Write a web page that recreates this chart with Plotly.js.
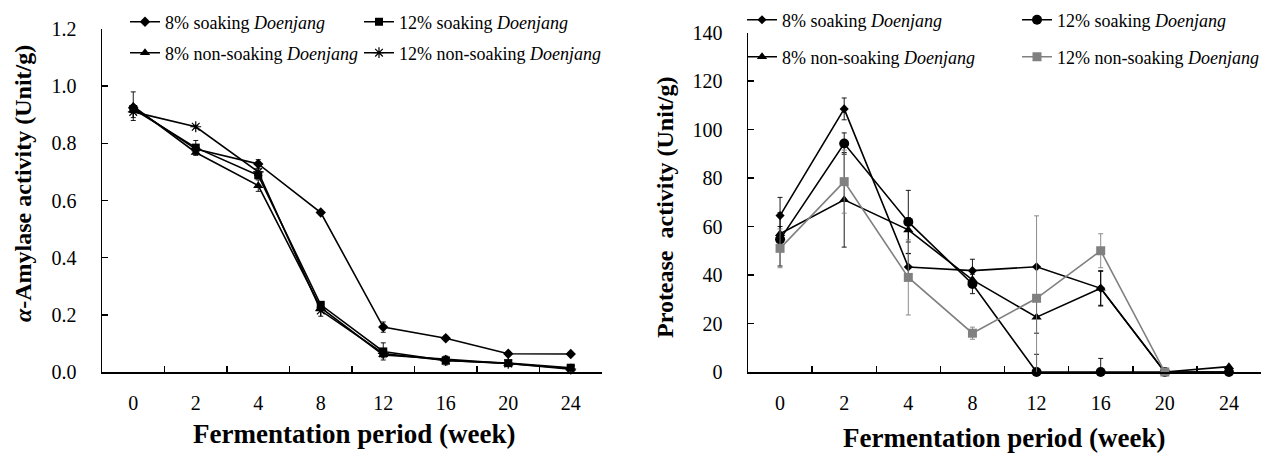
<!DOCTYPE html>
<html>
<head>
<meta charset="utf-8">
<script src="https://cdn.plot.ly/plotly-3.0.1.min.js"></script>
<style>html,body{margin:0;padding:0;background:#fff;}#chart{width:1274px;height:453px;}</style>
</head>
<body>
<div id="chart"></div>
<script>
// ---- categories ----
const weeks = ['0', '2', '4', '8', '12', '16', '20', '24'];

// ---- alpha-amylase activity (Unit/g), left panel ----
const amy8Soak      = [0.925, 0.780, 0.728, 0.558, 0.157, 0.118, 0.064, 0.063];
const amy8SoakErr   = [0.010, 0.010, 0.015, 0.006, 0.018, 0.008, 0.004, 0.004];
const amy12Soak     = [0.920, 0.785, 0.688, 0.235, 0.072, 0.040, 0.031, 0.015];
const amy12SoakErr  = [0.010, 0.025, 0.010, 0.010, 0.030, 0.015, 0.004, 0.004];
const amy8Non       = [0.930, 0.768, 0.652, 0.225, 0.060, 0.045, 0.030, 0.012];
const amy8NonErr    = [0.050, 0.010, 0.020, 0.010, 0.010, 0.010, 0.004, 0.004];
const amy12Non      = [0.910, 0.858, 0.700, 0.215, 0.065, 0.040, 0.030, 0.010];
const amy12NonErr   = [0.020, 0.005, 0.010, 0.020, 0.010, 0.010, 0.004, 0.004];

// ---- protease activity (Unit/g), right panel ----
const pro8Soak      = [64.5, 108.5, 43.3, 41.8, 43.4, 34.5, 0, 0];
const pro8SoakErr   = [7.5, 4.5, 5.5, 4.7, 0, 7.0, 0, 0];
const pro12Soak     = [54.7, 94.2, 61.9, 36.3, 0, 0, 0, 0];
const pro12SoakErr  = [11.0, 4.4, 13.0, 4.0, 7.3, 5.6, 0, 0];
const pro8Non       = [57.0, 71.0, 58.6, 38.0, 22.6, 34.5, 0, 2.2];
const pro8NonErr    = [3.0, 19.5, 5.0, 3.0, 6.6, 7.3, 0, 0];
const pro12Non      = [51.0, 78.5, 39.0, 16.0, 30.4, 50.0, 0, null];
const pro12NonErr   = [8.0, 13.0, 15.5, 2.5, 34.0, 7.0, 0, 0];

const names = [
  '8% soaking <i>Doenjang</i>',
  '12% soaking <i>Doenjang</i>',
  '8% non-soaking <i>Doenjang</i>',
  '12% non-soaking <i>Doenjang</i>'
];

const FONT = 'Liberation Serif';
const BLACK = '#000000';
const GRAY = '#808080';

function tr(y, err, name, symbol, size, color, xa, ya, legend, lw) {
  return {
    type: 'scatter', mode: 'lines+markers',
    x: weeks, y: y, name: name,
    xaxis: xa, yaxis: ya, legend: legend, showlegend: true,
    cliponaxis: false,
    line: {color: color, width: lw},
    marker: {symbol: symbol, size: size, color: color,
             line: {color: color, width: symbol.indexOf('asterisk') === 0 ? 1.2 : 0}},
    error_y: {type: 'data', array: err, visible: true, color: color, thickness: 0.9, width: 2.5}
  };
}

const data = [
  tr(amy8Soak,  amy8SoakErr,  names[0], 'diamond',       8, BLACK, 'x',  'y',  'legend',  1.6),
  tr(amy12Soak, amy12SoakErr, names[1], 'square',        8, BLACK, 'x',  'y',  'legend2', 1.6),
  tr(amy8Non,   amy8NonErr,   names[2], 'triangle-up',   9, BLACK, 'x',  'y',  'legend3', 1.6),
  tr(amy12Non,  amy12NonErr,  names[3], 'asterisk-open', 9, BLACK, 'x',  'y',  'legend4', 1.6),
  tr(pro8Soak,  pro8SoakErr,  names[0], 'diamond',       7, BLACK, 'x2', 'y2', 'legend5', 1.6),
  tr(pro12Soak, pro12SoakErr, names[1], 'circle',        10, BLACK, 'x2', 'y2', 'legend6', 1.6),
  tr(pro8Non,   pro8NonErr,   names[2], 'triangle-up',   9, BLACK, 'x2', 'y2', 'legend7', 1.6),
  tr(pro12Non,  pro12NonErr,  names[3], 'square',        9, GRAY,  'x2', 'y2', 'legend8', 1.6)
];

const W = 1274, H = 453;
const px = v => v / W;
const py = v => (H - v) / H;

function xax(d0, d1, anchor) {
  return {
    domain: [px(d0), px(d1)], anchor: anchor, type: 'category',
    categoryorder: 'array', categoryarray: weeks,
    range: [-0.5, 7.5], tickson: 'boundaries',
    ticks: 'inside', ticklen: 6, tickwidth: 1.5, tickcolor: BLACK,
    showline: true, linewidth: 1.5, linecolor: BLACK,
    showgrid: false, zeroline: false, fixedrange: true,
    tickfont: {family: FONT, size: 20, color: BLACK},
    ticklabelstandoff: 12
  };
}
function yax(top, range, dtick, fmt, anchor) {
  return {
    domain: [py(372), py(top)], anchor: anchor,
    range: range, dtick: dtick, tick0: 0, tickformat: fmt,
    ticks: 'inside', ticklen: 6, tickwidth: 1.5, tickcolor: BLACK,
    showline: true, linewidth: 1.5, linecolor: BLACK,
    showgrid: false, zeroline: false, fixedrange: true,
    tickfont: {family: FONT, size: 20, color: BLACK},
    ticklabelstandoff: 20
  };
}
function leg(xText, yCenter) {
  return {
    x: px(xText - 45), y: py(yCenter), xanchor: 'left', yanchor: 'middle',
    orientation: 'h', bgcolor: 'rgba(0,0,0,0)', borderwidth: 0,
    font: {family: FONT, size: 18, color: BLACK}, visible: true
  };
}

const layout = {
  width: W, height: H,
  margin: {l: 0, r: 0, t: 0, b: 0},
  showlegend: true,
  paper_bgcolor: '#ffffff', plot_bgcolor: '#ffffff',
  font: {family: FONT, color: BLACK},
  xaxis: xax(102, 602, 'y'),
  yaxis: yax(29, [0, 1.2], 0.2, '.1f', 'x'),
  xaxis2: xax(748, 1261, 'y2'),
  yaxis2: yax(32.5, [0, 140], 20, '', 'x2'),
  legend:  leg(170, 22),
  legend2: leg(404, 22),
  legend3: leg(170, 53),
  legend4: leg(404, 53),
  legend5: leg(787, 20),
  legend6: leg(1062, 20),
  legend7: leg(787, 57),
  legend8: leg(1062, 57),
  annotations: [
    {text: '<b>Fermentation period (week)</b>', xref: 'paper', yref: 'paper',
     x: px(354), y: py(434), xanchor: 'center', yanchor: 'middle', showarrow: false,
     font: {family: FONT, size: 27, color: BLACK}},
    {text: '<b>Fermentation period (week)</b>', xref: 'paper', yref: 'paper',
     x: px(1004), y: py(438), xanchor: 'center', yanchor: 'middle', showarrow: false,
     font: {family: FONT, size: 27, color: BLACK}},
    {text: '<b><i>α</i>-Amylase activity (Unit/g)</b>', xref: 'paper', yref: 'paper',
     x: px(23), y: py(184), xanchor: 'center', yanchor: 'middle', showarrow: false, textangle: -90,
     font: {family: FONT, size: 24, color: BLACK}},
    {text: '<b>Protease\u00a0 activity (Unit/g)</b>', xref: 'paper', yref: 'paper',
     x: px(665), y: py(208), xanchor: 'center', yanchor: 'middle', showarrow: false, textangle: -90,
     font: {family: FONT, size: 24, color: BLACK}}
  ]
};

Plotly.newPlot('chart', data, layout, {staticPlot: true, displayModeBar: false});
</script>
</body>
</html>
